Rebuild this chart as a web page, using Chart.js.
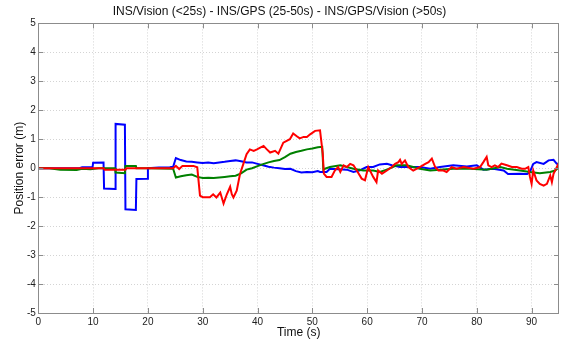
<!DOCTYPE html>
<html>
<head>
<meta charset="utf-8">
<script src="https://cdn.jsdelivr.net/npm/chart.js@4/dist/chart.umd.min.js"></script>
<style>
html,body{margin:0;padding:0;background:#fff;}
#wrap{width:562px;height:341px;position:relative;}
</style>
</head>
<body>
<div id="wrap"><canvas id="c" width="562" height="341"></canvas></div>
<script>
// ---- data ----
const titleText = "INS/Vision (<25s) - INS/GPS (25-50s) - INS/GPS/Vision (>50s)";
const xLabel = "Time (s)";
const yLabel = "Position error (m)";
const xTicks = [0,10,20,30,40,50,60,70,80,90];
const yTicks = [-5,-4,-3,-2,-1,0,1,2,3,4,5];

// INS/Vision segment series (blue)
const blueT = [0,7.5,8,9.9,10.0,11.9,12.0,14.0,14.1,15.8,15.9,17.8,17.9,19.9,20.0,22,24,24.6,25.1,26,27,28,29,30,31,32,33,34,35,36,37,38,39,40,41,42,43,44,45,46,47,48,49,50,51,51.4,52.6,53.2,56.3,57.5,58.7,59.9,61.1,62.3,63.6,64.5,66.0,69.6,71.5,73.3,75.7,78.2,80.0,81.2,83.0,84.9,85.7,87.9,89.2,89.7,90.3,90.9,92.2,93.1,94.0,94.6,95];
const blueV = [0,0,0.03,0.03,0.19,0.2,-0.7,-0.72,1.53,1.5,-1.42,-1.44,-0.37,-0.36,0.0,0.02,0.03,0.05,0.35,0.28,0.23,0.22,0.2,0.18,0.2,0.17,0.2,0.22,0.25,0.27,0.24,0.2,0.2,0.15,0.1,0.05,0.02,0.0,-0.03,-0.02,-0.1,-0.15,-0.13,-0.14,-0.1,-0.13,-0.13,-0.02,-0.05,-0.13,-0.07,0.04,0.04,0.13,0.15,0.1,0.04,0.04,-0.02,0.04,0.1,0.06,0.1,-0.05,-0.02,-0.08,-0.2,-0.19,-0.2,-0.13,0.15,0.21,0.15,0.27,0.29,0.15,0.15];

// green series
const greenT = [0,2,3,4,7,8,9.5,11,14.0,14.1,15.8,15.9,17.8,17.9,20,24.6,25.1,26,27,28,29,30,31,32,33,34,35,36,37,38,39,40,41,42,43,44,45,46,47,48,49,50,51,51.8,52.0,52.3,53.2,55.1,57.5,59.3,61.1,62.3,63.6,65.4,67.2,69.6,71.5,73.3,75.7,78.8,81.8,84.3,85.5,87.9,89.7,91.5,93.4,94.3,95];
const greenV = [0,0,-0.03,-0.05,-0.06,-0.02,-0.04,0,0,-0.15,-0.17,0.08,0.08,0.0,0.0,-0.02,-0.32,-0.28,-0.24,-0.22,-0.3,-0.34,-0.33,-0.34,-0.32,-0.3,-0.28,-0.26,-0.18,-0.05,0.0,0.07,0.14,0.2,0.25,0.28,0.38,0.5,0.56,0.6,0.65,0.68,0.72,0.74,-0.05,-0.02,0.04,0.1,-0.02,-0.08,-0.08,-0.13,-0.05,0.1,0.1,-0.02,-0.08,-0.05,-0.02,-0.02,-0.05,0.04,-0.02,-0.08,-0.13,-0.17,-0.13,-0.08,0.04];

// red series
const redT = [0,11.9,12.1,15.9,16.1,24.6,25.1,25.7,26.3,28.3,29.0,29.5,30,31.3,31.9,32.5,33.2,33.8,34.4,35.0,35.3,35.6,36.2,36.8,37.4,38.0,38.6,39.3,39.9,40.5,41.1,41.7,42.3,43.2,43.8,44.7,45.9,46.5,47.1,47.7,48.4,49.0,49.6,50.5,51.4,51.9,52.1,52.6,53.5,54.1,54.7,55.1,55.7,56.3,56.9,57.5,58.1,59.0,59.6,60.2,61.1,61.7,62.0,62.7,63.6,64.5,65.1,65.7,66.0,66.3,66.9,67.5,68.4,69.0,69.6,70.6,71.2,71.8,72.4,73.0,73.9,74.5,75.4,76.3,77.6,79.4,80.6,81.2,81.8,82.1,82.7,83.3,83.9,84.5,85.5,86.4,87.3,88.2,88.8,89.4,89.7,90.0,90.3,90.9,91.5,92.2,92.8,93.4,93.7,94.0,94.9,95];
const redV = [0,0,-0.05,-0.05,0,0,0.08,-0.03,0.08,0.08,0.03,-0.95,-1.0,-1.0,-0.9,-1.01,-0.84,-1.22,-0.9,-0.64,-0.9,-1.01,-0.78,-0.2,0.14,0.48,0.65,0.6,0.65,0.71,0.77,0.65,0.54,0.6,0.5,0.88,1.0,1.2,1.11,1.03,1.08,1.08,1.17,1.29,1.31,0.5,-0.19,-0.3,-0.3,-0.08,0.04,-0.13,0.1,0.04,0.15,0.1,-0.08,-0.36,-0.42,0.04,-0.3,-0.48,-0.08,-0.19,-0.08,0.04,0.15,0.21,0.29,0.15,0.27,0.04,-0.08,-0.02,0.04,0.15,0.21,0.33,0.04,-0.08,-0.08,-0.13,0.04,-0.02,0.04,-0.02,0.04,0.21,0.39,0.1,0.04,0.1,0.04,0.16,0.1,0.04,0.04,-0.02,-0.02,0.04,-0.3,-0.54,-0.08,-0.42,-0.54,-0.6,-0.54,-0.25,-0.48,-0.19,0.15,0.15];

function pts(t, v){ return t.map((x,i)=>({x:x, y:v[i]})); }

const FONT = 'Liberation Sans, Arial, sans-serif';

const boxPlugin = {
  id: 'box',
  afterDraw(chart){
    const {ctx, chartArea:a, scales:{x, y}} = chart;
    ctx.save();
    ctx.strokeStyle = '#8c8c8c';
    ctx.lineWidth = 1;
    ctx.strokeRect(Math.round(a.left)+0.5, Math.round(a.top)+0.5, Math.round(a.right-a.left)-1, Math.round(a.bottom-a.top));
    const L = 5;
    ctx.beginPath();
    xTicks.forEach(v=>{
      const px = Math.round(x.getPixelForValue(v))+0.5;
      ctx.moveTo(px, a.bottom); ctx.lineTo(px, a.bottom-L);
      ctx.moveTo(px, a.top); ctx.lineTo(px, a.top+L);
    });
    yTicks.forEach(v=>{
      const py = Math.round(y.getPixelForValue(v))+0.5;
      ctx.moveTo(a.left, py); ctx.lineTo(a.left+L, py);
      ctx.moveTo(a.right, py); ctx.lineTo(a.right-L, py);
    });
    ctx.stroke();
    ctx.restore();
  }
};

new Chart(document.getElementById('c'), {
  type: 'line',
  data: {
    datasets: [
      {label:'INS/Vision', data: pts(blueT, blueV), borderColor:'#0000ff', borderWidth:2, pointRadius:0, tension:0, order:3},
      {label:'INS/GPS', data: pts(greenT, greenV), borderColor:'#008000', borderWidth:2, pointRadius:0, tension:0, order:2},
      {label:'INS/GPS/Vision', data: pts(redT, redV), borderColor:'#ff0000', borderWidth:2, pointRadius:0, tension:0, order:1}
    ]
  },
  options: {
    responsive: false,
    animation: false,
    events: [],
    layout: {padding: {left:0, right:3, top:0, bottom:0}},
    plugins: {
      legend: {display:false},
      tooltip: {enabled:false},
      title: {display:true, text: titleText, color:'#111', font:{family:FONT, size:12, weight:'normal'}, padding:{top:4, bottom:5}}
    },
    scales: {
      x: {
        type:'linear', min:0, max:95,
        afterFit(s){ s.height = 28; },
        ticks: {stepSize:10, includeBounds:false, autoSkip:false, maxRotation:0, color:'#222', padding:3, font:{family:FONT, size:10}},
        grid: {color:'#d4d4d4', drawTicks:false, lineWidth:1},
        border: {display:false, dash:[1,2]},
        title: {display:true, text:xLabel, color:'#111', font:{family:FONT, size:12}, padding:{top:0, bottom:1}}
      },
      y: {
        type:'linear', min:-5, max:5,
        afterFit(s){ s.width = 38.3; },
        ticks: {stepSize:1, autoSkip:false, color:'#222', padding:2.5, font:{family:FONT, size:10}},
        grid: {color:'#d4d4d4', drawTicks:false, lineWidth:1},
        border: {display:false, dash:[1,2]},
        title: {display:true, text:yLabel, color:'#111', font:{family:FONT, size:12}, padding:{top:12, bottom:0}}
      }
    }
  },
  plugins: [boxPlugin]
});
</script>
</body>
</html>
